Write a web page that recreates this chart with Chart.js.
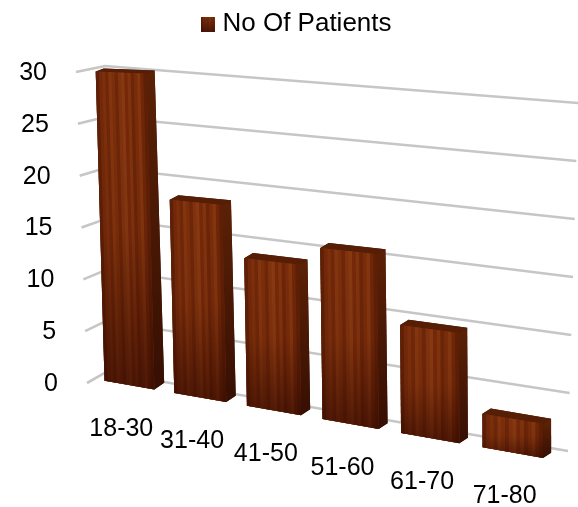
<!DOCTYPE html>
<html>
<head>
<meta charset="utf-8">
<title>No Of Patients</title>
<script src="https://cdn.jsdelivr.net/npm/chart.js@4"></script>
<style>
    html, body { margin: 0; padding: 0; background: #fff; }
    canvas { display: block; }
</style>
</head>
<body>
<canvas id="myChart" width="578" height="507"></canvas>
<script>
const categories = ['18-30', '31-40', '41-50', '51-60', '61-70', '71-80'];
const patients = [30, 18.2, 13.5, 15.2, 9.3, 2.8];
const seriesName = 'No Of Patients';
const yTickValues = [0, 5, 10, 15, 20, 25, 30];

const fontFamily = '"Liberation Sans", Arial, sans-serif';
const grainColors = ['#5f2007', '#742a0a', '#7d300c', '#70280a', '#84360f', '#7c2f0c', '#6e2709', '#80330e', '#883a12', '#76290a', '#82340e', '#6c2609', '#7a2d0b', '#85370f', '#6f2709', '#5e2007'];

// corners of each tilted plane, in order top left, top right, bottom right, bottom left
const frontPlane = [[86, 71], [555, 92], [555, 460], [95, 379]];
const backPlane = [[94, 68], [563, 87], [563, 455], [105, 372]];
const wallPlane = [[105, 66], [578, 103], [568, 451], [106, 372]];
const sidePlane = [[76, 72], [105, 66], [106, 372], [87, 383]];

// bars get wider towards the right of the picture
const foreshorten = (u) => u * (1 - 0.115) + 0.115 * u * u;

// maps the unit square on to a four corner plane, straight lines stay straight
const planeMap = (q, warp) => (u, t) => {
    const s = warp ? warp(u) : u;
    const topX = q[0][0] + (q[1][0] - q[0][0]) * s, topY = q[0][1] + (q[1][1] - q[0][1]) * s;
    const botX = q[3][0] + (q[2][0] - q[3][0]) * s, botY = q[3][1] + (q[2][1] - q[3][1]) * s;
    return [topX + (botX - topX) * t, topY + (botY - topY) * t];
};

const toFront = planeMap(frontPlane, foreshorten);
const toBack = planeMap(backPlane, foreshorten);
const toWall = planeMap(wallPlane);
const toSide = planeMap(sidePlane);

const fillQuad = (ctx, pts, fill) => {
    ctx.beginPath();
    ctx.moveTo(pts[0][0], pts[0][1]);
    for (let i = 1; i < pts.length; i++) ctx.lineTo(pts[i][0], pts[i][1]);
    ctx.closePath();
    ctx.fillStyle = fill;
    ctx.fill();
};

const drawBox = (ctx, u0, u1, t0) => {
    const tl = toFront(u0, t0), tr = toFront(u1, t0), br = toFront(u1, 1), bl = toFront(u0, 1);
    const btl = toBack(u0, t0), btr = toBack(u1, t0), bbr = toBack(u1, 1);

    // whole outline first so the blurred faces leave no pale seam between them
    fillQuad(ctx, [tl, btl, btr, bbr, br, bl], '#4a1a05');

    let side = ctx.createLinearGradient(0, tr[1], 0, br[1]);
    side.addColorStop(0, '#5a2106');
    side.addColorStop(1, '#360f03');
    fillQuad(ctx, [tr, btr, bbr, br], side);
    fillQuad(ctx, [tl, btl, btr, tr], '#561e05');

    fillQuad(ctx, [tl, tr, br, bl], grainColors[1]);
    const n = grainColors.length;
    for (let s = 0; s < n; s++) {
        const a = u0 + (u1 - u0) * s / n;
        const b = u0 + (u1 - u0) * Math.min(1, (s + 1.15) / n);
        fillQuad(ctx, [toFront(a, t0), toFront(b, t0), toFront(b, 1), toFront(a, 1)], grainColors[s]);
    }
    let shade = ctx.createLinearGradient(0, Math.min(tl[1], tr[1]), 0, Math.max(bl[1], br[1]));
    shade.addColorStop(0, 'rgba(60,12,0,0)');
    shade.addColorStop(0.5, 'rgba(50,8,0,0.08)');
    shade.addColorStop(1, 'rgba(40,5,0,0.6)');
    fillQuad(ctx, [tl, tr, br, bl], shade);
};

const woodSwatch = () => {
    const c = document.createElement('canvas');
    c.width = 14; c.height = 15;
    const g = c.getContext('2d');
    for (let i = 0; i < 14; i++) {
        g.fillStyle = grainColors[i];
        g.fillRect(i, 0, 1, 15);
    }
    const shade = g.createLinearGradient(0, 0, 0, 15);
    shade.addColorStop(0, 'rgba(50,8,0,0)');
    shade.addColorStop(1, 'rgba(40,5,0,0.6)');
    g.fillStyle = shade;
    g.fillRect(0, 0, 14, 15);
    return c;
};

const tiltedBars = {
    id: 'tiltedBars',
    // the library has laid out the bars, here they get drawn in perspective instead
    beforeDatasetsDraw(chart) {
        const ctx = chart.ctx;
        const area = chart.chartArea;
        const yScale = chart.scales.y;
        const toU = (x) => (x - area.left) / area.width;
        const toT = (y) => (y - area.top) / area.height;

        ctx.save();
        ctx.strokeStyle = '#c6c6c6';
        ctx.lineWidth = 2.6;
        yScale.ticks.forEach((tick) => {
            const t = toT(yScale.getPixelForValue(tick.value));
            const a = toSide(0, t), b = toSide(1, t), c = toWall(1, t);
            ctx.beginPath();
            ctx.moveTo(a[0], a[1]);
            ctx.lineTo(b[0], b[1]);
            ctx.lineTo(c[0], c[1]);
            ctx.stroke();
        });

        ctx.filter = 'blur(0.5px)';
        chart.getDatasetMeta(0).data.forEach((bar) => {
            const half = bar.width / 2;
            drawBox(ctx, toU(bar.x - half), toU(bar.x + half), toT(bar.y));
        });
        ctx.restore();
        return false;
    },
    afterDraw(chart) {
        const ctx = chart.ctx;
        const area = chart.chartArea;
        const yScale = chart.scales.y;
        const xScale = chart.scales.x;

        ctx.save();
        ctx.fillStyle = '#000';
        ctx.font = '25px ' + fontFamily;
        ctx.textBaseline = 'middle';

        ctx.textAlign = 'right';
        yScale.ticks.forEach((tick) => {
            const p = toSide(0, (yScale.getPixelForValue(tick.value) - area.top) / area.height);
            ctx.fillText(tick.label, p[0] - 29, p[1] + 1);
        });

        ctx.textAlign = 'center';
        categories.forEach((label, i) => {
            const p = toFront((xScale.getPixelForValue(i) - area.left) / area.width, 1);
            ctx.fillText(label, p[0] - 8, p[1] + 44);
        });
        ctx.restore();
    }
};

const config = {
    type: 'bar',
    data: {
        labels: categories,
        datasets: [{
            label: seriesName,
            data: patients,
            backgroundColor: grainColors[1],
            barPercentage: 0.72,
            categoryPercentage: 1
        }]
    },
    options: {
        responsive: false,
        animation: false,
        layout: { padding: { left: 21 } },
        plugins: {
            legend: {
                position: 'top',
                labels: {
                    usePointStyle: true,
                    pointStyle: woodSwatch(),
                    boxWidth: 2,
                    boxHeight: 15,
                    padding: 11,
                    color: '#000',
                    font: { family: fontFamily, size: 26 }
                }
            },
            tooltip: { enabled: false }
        },
        scales: {
            x: { grid: { display: false }, border: { display: false }, ticks: { display: false } },
            y: {
                min: yTickValues[0],
                max: yTickValues[yTickValues.length - 1],
                afterBuildTicks: (axis) => { axis.ticks = yTickValues.map((v) => ({ value: v })); },
                grid: { display: false },
                border: { display: false },
                ticks: { display: false }
            }
        }
    },
    plugins: [tiltedBars]
};

const myChart = new Chart(document.getElementById('myChart'), config);
</script>
</body>
</html>
